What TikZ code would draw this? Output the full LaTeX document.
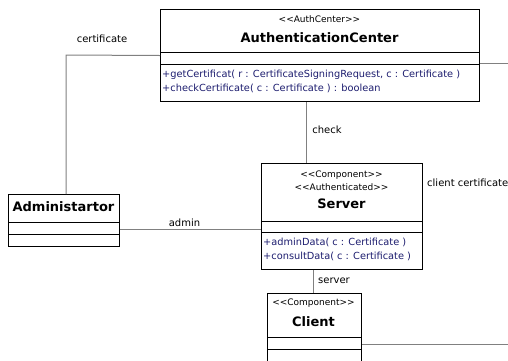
\documentclass[tikz,border=0pt]{standalone}
\usepackage{fontspec}
\setmainfont{DejaVu Sans}[Ligatures=TeXOff]
\definecolor{opblue}{RGB}{28,28,110}
\definecolor{linkgray}{RGB}{128,128,128}
\tikzset{
  umlbox/.style={draw=black, line width=1pt, inner sep=0pt, anchor=north west},
  link/.style={draw=linkgray, line width=1pt},
  stereo/.style={font=\fontsize{9}{10}\selectfont, inner sep=0pt},
  title/.style={font=\fontsize{13}{15}\selectfont\bfseries, inner sep=0pt},
  op/.style={font=\fontsize{9.8}{12}\selectfont, text=opblue, anchor=west, inner sep=0pt},
  role/.style={font=\fontsize{10}{12}\selectfont, inner sep=0pt}
}
\begin{document}
\begin{tikzpicture}[x=1pt, y=-1pt]
        \useasboundingbox (0,0) rectangle (508,360);
        \clip (0,0) rectangle (508,360);
        \node[umlbox, minimum width=319pt, minimum height=92pt] (auth) at (160,9) {};
        \node[umlbox, minimum width=161pt, minimum height=106pt] (server) at (261,163) {};
        \node[umlbox, minimum width=111pt, minimum height=52pt] (admin) at (8,194) {};
        \node[umlbox, minimum width=94pt, minimum height=90pt] (client) at (267,293) {};
        \draw[line width=1pt] ([yshift=-43pt]auth.north west) -- ([yshift=-43pt]auth.north east)
              ([yshift=-55pt]auth.north west) -- ([yshift=-55pt]auth.north east);
        \draw[line width=1pt] ([yshift=-58pt]server.north west) -- ([yshift=-58pt]server.north east)
              ([yshift=-69pt]server.north west) -- ([yshift=-69pt]server.north east);
        \draw[line width=1pt] ([yshift=-28pt]admin.north west) -- ([yshift=-28pt]admin.north east)
              ([yshift=-40pt]admin.north west) -- ([yshift=-40pt]admin.north east);
        \draw[line width=1pt] ([yshift=-44pt]client.north west) -- ([yshift=-44pt]client.north east)
              ([yshift=-56pt]client.north west) -- ([yshift=-56pt]client.north east);
        \node[stereo] (authst) at (319.5,19) {<<AuthCenter>>};
        \node[title] (authname) at (319.5,38) {AuthenticationCenter};
        \node[op] (getcert) at (162,75) {+getCertificat( r : CertificateSigningRequest, c : Certificate )};
        \node[op] (checkcert) at (162,88) {+checkCertificate( c : Certificate ) : boolean};
        \node[stereo] (serverst) at (341.5,175) {<<Component>>};
        \node[stereo] (serverauth) at (341.5,187) {<<Authenticated>>};
        \node[title] (servername) at (341.5,204) {Server};
        \node[op] (admindata) at (263,242) {+adminData( c : Certificate )};
        \node[op] (consultdata) at (263,256) {+consultData( c : Certificate )};
        \node[title] (adminname) at (63.5,207) {Administartor};
        \node[stereo] (clientst) at (313.5,303) {<<Component>>};
        \node[title] (clientname) at (313.5,322) {Client};
        \coordinate (certbend) at (66,55);
        \coordinate (checktop) at ([xshift=-13.5pt]auth.south);
        \coordinate (adminport) at ([yshift=-9pt]admin.east);
        \coordinate (serverport) at ([xshift=-28.5pt]server.south);
        \coordinate (authout) at (520,63);
        \coordinate (clientout) at (520,344);
        \draw[link] (auth.west) -- (certbend) -- (certbend |- admin.north);
        \draw[link] (checktop) -- (checktop |- server.north);
        \draw[link] (adminport) -- (adminport -| server.west);
        \draw[link] (serverport) -- (serverport |- client.north);
        \draw[link] (auth.east |- authout) -- (authout);
        \draw[link] (client.east |- clientout) -- (clientout);
        \node[role] (certlbl) at (102,39) {certificate};
        \node[role] (checklbl) at (327,130) {check};
        \node[role] (adminlbl) at (184.5,223) {admin};
        \node[role] (serverlbl) at (334,281) {server};
        \node[role, anchor=west] (clientlbl) at (427,183) {client certificate};
    \end{tikzpicture}
\end{document}
